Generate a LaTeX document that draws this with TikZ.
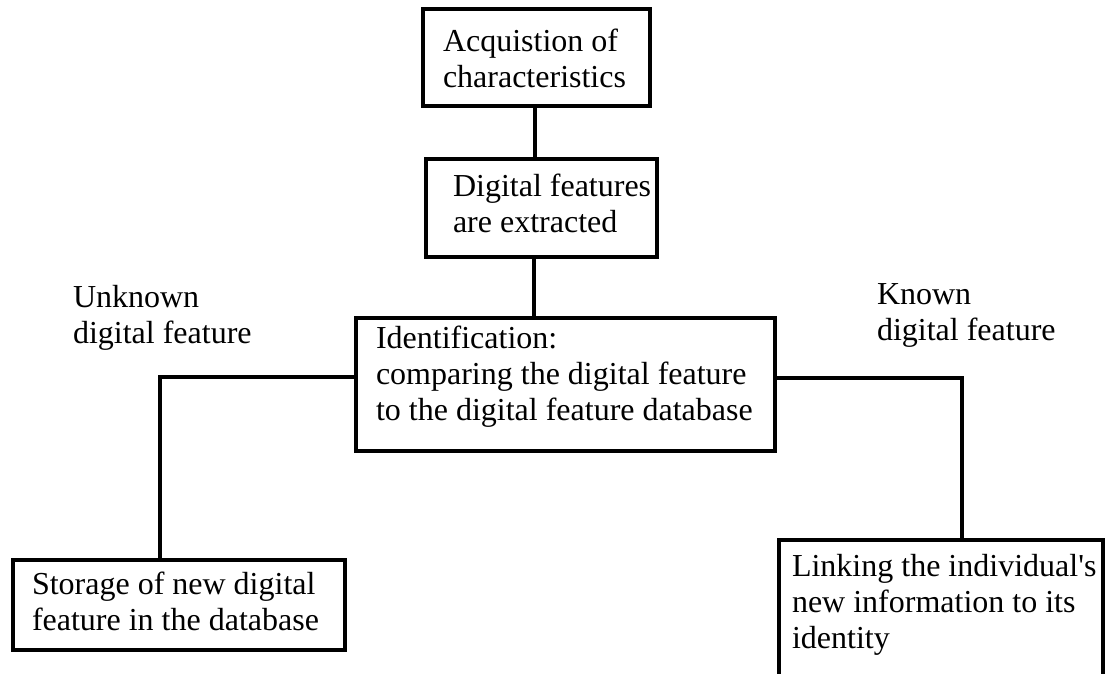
\documentclass[tikz,border=0pt]{standalone}
\usepackage{fontspec}
\setmainfont{Liberation Serif}
\begin{document}
\begin{tikzpicture}[x=1pt,y=-1pt,
  box/.style={draw=black, line width=3.2pt, rectangle, inner sep=0pt, outer sep=0pt},
  txt/.style={anchor=base west, inner sep=0pt, outer sep=0pt, align=left,
    font=\fontsize{32}{36}\selectfont, text=black},
  link/.style={draw=black, line width=3.2pt}]
\clip (0,0) rectangle (1105,673);
\fill[white] (0,0) rectangle (1105,673);
% boxes
\node[box, minimum width=227pt, minimum height=97pt] (b1) at (536.5,57.5) {};
\node[box, minimum width=231pt, minimum height=98pt] (b2) at (541.5,208) {};
\node[box, minimum width=419pt, minimum height=133pt] (b3) at (565.5,384.5) {};
\node[box, minimum width=332pt, minimum height=90pt] (b4) at (179,605) {};
\node[box, minimum width=324pt, minimum height=180pt] (b5) at (941,630) {};
% texts (anchored at the baseline of the last line)
\node[txt] (t1) at (443,87) {Acquistion of\\characteristics};
\node[txt] (t2) at (453,232) {Digital features\\are extracted};
\node[txt] (t3) at (376,420) {Identification:\\comparing the digital feature\\to the digital feature database};
\node[txt] (t4) at (32,630) {Storage of new digital\\feature in the database};
\node[txt] (t5) at (792,648) {Linking the individual\textquotesingle s\\new information to its\\identity};
\node[txt] (lu) at (73,343) {Unknown\\digital feature};
\node[txt] (lk) at (877,340) {Known\\digital feature};
% connectors
\coordinate (cl) at (160,377);
\coordinate (cr) at (962,378);
\draw[link] (b1.south -| 535,0) -- (b2.north -| 535,0);
\draw[link] (b2.south -| 534,0) -- (b3.north -| 534,0);
\draw[link] (b3.west |- cl) -- (cl) -- (cl |- b4.north);
\draw[link] (b3.east |- cr) -- (cr) -- (cr |- b5.north);
\end{tikzpicture}
\end{document}
